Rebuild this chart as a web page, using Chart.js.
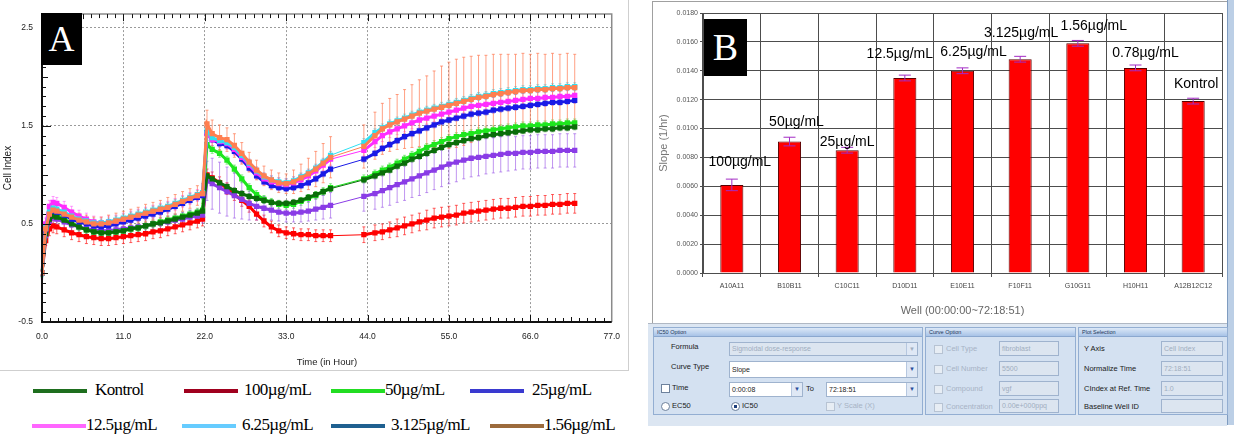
<!DOCTYPE html>
<html>
<head>
<meta charset="utf-8">
<script src="https://cdn.jsdelivr.net/npm/chart.js@4.4.1/dist/chart.umd.min.js"></script>
<style>
body { margin:0; width:1234px; height:441px; background:#fff; position:relative; overflow:hidden; font-family:"Liberation Sans", Arial, sans-serif; }
.abs { position:absolute; }
.tag { position:absolute; background:#000; color:#fff; font-family:"Liberation Serif", serif; text-align:center; z-index:5; }
.leg { position:absolute; font-family:"Liberation Serif", serif; font-size:17px; letter-spacing:-0.6px; color:#000; white-space:nowrap; }
.leg i { display:inline-block; width:54px; height:4px; vertical-align:middle; margin-right:4px; }
.grp { position:absolute; background:#d4e1f1; border:1px solid #93aed2; }
.hd { height:8px; background:linear-gradient(#dce8f7,#a8c3e7); border-bottom:1px solid #8ba8cf; font-size:5.5px; line-height:8px; padding-left:3px; color:#22365a; }
.lb { position:absolute; font-size:7.5px; color:#1a1a1a; white-space:nowrap; }
.dis { color:#a7b3c5; }
.bx { position:absolute; background:#fff; border:1px solid #9fb3ce; font-size:7px; padding-left:2px; color:#222; white-space:nowrap; box-sizing:border-box; }
.bx.d { background:#dce5f0; color:#9fadbf; }
.ar { position:absolute; right:0; top:0; bottom:0; width:10px; background:#dfe8f5; color:#2a4f9c; font-size:6px; text-align:center; border-left:1px solid #b6c7df; }
.ck { position:absolute; width:7px; height:7px; background:#fff; border:1px solid #6d819c; }
.ck.d { border-color:#b7c3d3; background:#e7edf4; }
.rd { border-radius:50%; }
</style>
</head>
<body>

<!-- panel A -->
<div class="abs" style="left:0;top:0;width:628px;height:370px;border-right:1px solid #cfcfcf;border-bottom:1px solid #cfcfcf;"></div>
<canvas id="cellChart" class="abs" width="630" height="372" style="left:0;top:0;"></canvas>
<div class="tag" style="left:41px;top:13px;width:41px;height:52px;font-size:36px;line-height:52px;">A</div>
<div id="legend"></div>

<!-- panel B -->
<div class="abs" style="left:652px;top:1px;width:574px;height:321px;border:1px solid #a0a0a0;background:#fff;"></div>
<canvas id="slopeChart" class="abs" width="573" height="318" style="left:653px;top:2px;"></canvas>
<div class="tag" style="left:704px;top:19px;width:43px;height:57px;font-size:38px;line-height:57px;">B</div>
<div class="abs" style="left:1227px;top:0;width:7px;height:425px;background:#bccfe6;border-left:1px solid #7f9cc0;"></div>

<div class="abs" style="left:648px;top:323px;width:579px;height:102px;background:#dce6f2;border-top:1px solid #b0b8c4;"></div>

<div class="grp" style="left:653px;top:327px;width:268px;height:86px;">
  <div class="hd">IC50 Option</div>
  <div class="lb" style="left:17px;top:14px;">Formula</div>
  <div class="bx d" style="left:75px;top:14px;width:189px;height:14px;line-height:12px;">Sigmoidal dose-response<div class="ar" style="color:#9fadbf;">&#9660;</div></div>
  <div class="lb" style="left:17px;top:34px;">Curve Type</div>
  <div class="bx" style="left:75px;top:33px;width:189px;height:17px;line-height:15px;">Slope<div class="ar" style="line-height:15px;">&#9660;</div></div>
  <div class="ck" style="left:7px;top:56px;"></div>
  <div class="lb" style="left:18px;top:55px;">Time</div>
  <div class="bx" style="left:75px;top:54px;width:74px;height:15px;line-height:13px;">0:00:08<div class="ar" style="line-height:13px;">&#9660;</div></div>
  <div class="lb" style="left:152px;top:56px;">To</div>
  <div class="bx" style="left:172px;top:54px;width:92px;height:15px;line-height:13px;">72:18:51<div class="ar" style="line-height:13px;">&#9660;</div></div>
  <div class="ck rd" style="left:7px;top:74px;"></div>
  <div class="lb" style="left:18px;top:73px;">EC50</div>
  <div class="ck rd" style="left:77px;top:74px;background:radial-gradient(#1d3f7a 30%,#fff 40%);"></div>
  <div class="lb" style="left:88px;top:73px;">IC50</div>
  <div class="ck d" style="left:172px;top:74px;"></div>
  <div class="lb dis" style="left:183px;top:73px;">Y Scale (X)</div>
</div>

<div class="grp" style="left:925px;top:327px;width:149px;height:86px;">
  <div class="hd">Curve Option</div>
  <div class="ck d" style="left:8px;top:17px;"></div>
  <div class="lb dis" style="left:20px;top:16px;">Cell Type</div>
  <div class="bx d" style="left:73px;top:13px;width:60px;height:15px;line-height:13px;">fibroblast</div>
  <div class="ck d" style="left:8px;top:37px;"></div>
  <div class="lb dis" style="left:20px;top:36px;">Cell Number</div>
  <div class="bx d" style="left:73px;top:33px;width:60px;height:15px;line-height:13px;">5500</div>
  <div class="ck d" style="left:8px;top:57px;"></div>
  <div class="lb dis" style="left:20px;top:56px;">Compound</div>
  <div class="bx d" style="left:73px;top:53px;width:60px;height:15px;line-height:13px;">vgf</div>
  <div class="ck d" style="left:8px;top:75px;"></div>
  <div class="lb dis" style="left:20px;top:74px;">Concentration</div>
  <div class="bx d" style="left:73px;top:71px;width:60px;height:14px;line-height:12px;">0.00e+000ppq</div>
</div>

<div class="grp" style="left:1078px;top:327px;width:148px;height:86px;">
  <div class="hd">Plot Selection</div>
  <div class="lb" style="left:5px;top:16px;">Y Axis</div>
  <div class="bx d" style="left:82px;top:13px;width:62px;height:15px;line-height:13px;">Cell Index</div>
  <div class="lb" style="left:5px;top:36px;">Normalize Time</div>
  <div class="bx d" style="left:82px;top:33px;width:62px;height:15px;line-height:13px;">72:18:51</div>
  <div class="lb" style="left:5px;top:56px;">CIndex at Ref. Time</div>
  <div class="bx d" style="left:82px;top:53px;width:62px;height:15px;line-height:13px;">1.0</div>
  <div class="lb" style="left:5px;top:74px;">Baseline Well ID</div>
  <div class="bx d" style="left:82px;top:71px;width:62px;height:14px;"></div>
</div>

<script>
// ---- panel A: cell index vs time ----
const hours = [0,0.5,1,1.5,2,
  3,4,5,6,7,8,9,10,11,12,13,14,15,16,17,18,19,20,21,
  21.7,22.3,
  23,24,25,26,27,28,29,30,31,32,33,34,35,36,37,38,39,
  43.5,
  45,46,47,48,49,50,51,52,53,54,55,56,57,58,59,60,61,62,63,64,65,66,67,68,69,70,71,72];

const kontrol = [0.00,0.40,0.55,0.58,0.57,
  0.54,0.50,0.47,0.44,0.42,0.41,0.41,0.42,0.43,0.45,0.46,0.48,0.50,0.51,0.53,0.55,0.57,0.59,0.61,
  0.63,0.99,
  0.96,0.92,0.88,0.84,0.81,0.78,0.76,0.74,0.72,0.71,0.71,0.72,0.74,0.77,0.80,0.83,0.86,
  0.95,
  0.99,1.02,1.05,1.09,1.12,1.16,1.19,1.22,1.25,1.28,1.31,1.33,1.35,1.37,1.38,1.40,1.41,1.42,1.43,1.44,1.45,1.46,1.46,1.47,1.47,1.48,1.48,1.49];
const dose100 = [0.00,0.33,0.45,0.48,0.47,
  0.44,0.41,0.39,0.37,0.36,0.35,0.35,0.36,0.37,0.38,0.39,0.40,0.42,0.43,0.45,0.47,0.49,0.51,0.53,
  0.55,1.00,
  0.97,0.92,0.86,0.80,0.74,0.68,0.60,0.53,0.47,0.43,0.41,0.40,0.39,0.39,0.38,0.38,0.38,
  0.39,
  0.41,0.42,0.44,0.46,0.48,0.50,0.52,0.54,0.56,0.57,0.58,0.59,0.61,0.62,0.63,0.64,0.65,0.66,0.66,0.67,0.68,0.68,0.69,0.69,0.70,0.70,0.71,0.71];
const dose50 = [0.00,0.42,0.57,0.60,0.59,
  0.55,0.51,0.47,0.44,0.42,0.41,0.41,0.42,0.43,0.45,0.46,0.48,0.50,0.52,0.54,0.56,0.58,0.60,0.62,
  0.64,1.31,
  1.26,1.22,1.15,1.06,0.96,0.87,0.80,0.75,0.72,0.70,0.69,0.70,0.73,0.76,0.79,0.83,0.87,
  0.96,
  1.01,1.05,1.08,1.12,1.16,1.20,1.24,1.28,1.31,1.34,1.37,1.39,1.41,1.42,1.44,1.45,1.46,1.47,1.48,1.49,1.50,1.50,1.51,1.51,1.52,1.52,1.53,1.53];
const dose25 = [0.00,0.44,0.60,0.63,0.62,
  0.59,0.55,0.52,0.50,0.48,0.47,0.48,0.50,0.52,0.54,0.56,0.58,0.60,0.62,0.65,0.68,0.71,0.74,0.77,
  0.79,1.43,
  1.36,1.32,1.30,1.24,1.16,1.07,0.99,0.93,0.89,0.87,0.86,0.87,0.89,0.92,0.96,1.01,1.06,
  1.16,
  1.22,1.27,1.31,1.35,1.39,1.42,1.45,1.48,1.51,1.54,1.56,1.58,1.60,1.62,1.63,1.64,1.66,1.67,1.68,1.69,1.70,1.71,1.72,1.73,1.74,1.74,1.75,1.76];
const dose12 = [0.00,0.50,0.68,0.72,0.71,
  0.67,0.62,0.58,0.55,0.52,0.51,0.52,0.53,0.55,0.57,0.59,0.61,0.63,0.65,0.67,0.70,0.73,0.76,0.79,
  0.81,1.42,
  1.36,1.34,1.32,1.26,1.18,1.10,1.02,0.96,0.93,0.91,0.90,0.92,0.95,0.99,1.04,1.10,1.16,
  1.25,
  1.34,1.40,1.44,1.47,1.50,1.53,1.56,1.58,1.60,1.62,1.64,1.66,1.68,1.70,1.71,1.72,1.73,1.74,1.75,1.76,1.77,1.78,1.78,1.79,1.79,1.80,1.80,1.81];
const dose6 = [0.00,0.46,0.62,0.66,0.65,
  0.62,0.58,0.55,0.53,0.51,0.51,0.52,0.54,0.56,0.58,0.60,0.62,0.64,0.66,0.68,0.71,0.74,0.77,0.80,
  0.82,1.45,
  1.38,1.35,1.33,1.28,1.20,1.12,1.04,0.98,0.95,0.93,0.92,0.94,0.98,1.02,1.07,1.13,1.20,
  1.33,
  1.43,1.48,1.52,1.55,1.58,1.61,1.64,1.66,1.68,1.70,1.72,1.74,1.76,1.78,1.80,1.81,1.83,1.84,1.85,1.86,1.87,1.87,1.88,1.88,1.89,1.89,1.90,1.90];
const dose3 = [0.00,0.38,0.53,0.56,0.55,
  0.52,0.49,0.47,0.45,0.44,0.43,0.43,0.44,0.45,0.46,0.47,0.48,0.50,0.51,0.52,0.54,0.55,0.57,0.58,
  0.59,0.94,
  0.91,0.87,0.83,0.79,0.75,0.71,0.68,0.66,0.64,0.62,0.61,0.61,0.62,0.63,0.65,0.67,0.69,
  0.78,
  0.81,0.84,0.87,0.90,0.93,0.96,0.99,1.02,1.05,1.08,1.11,1.13,1.15,1.17,1.18,1.19,1.20,1.21,1.22,1.22,1.23,1.23,1.24,1.24,1.24,1.25,1.25,1.25];
const dose1 = [0.00,0.45,0.60,0.64,0.63,
  0.60,0.57,0.54,0.52,0.50,0.50,0.51,0.53,0.55,0.57,0.59,0.61,0.63,0.65,0.67,0.70,0.73,0.76,0.79,
  0.81,1.52,
  1.42,1.38,1.36,1.30,1.22,1.13,1.05,0.99,0.95,0.92,0.91,0.93,0.97,1.01,1.06,1.12,1.18,
  1.29,
  1.40,1.47,1.51,1.54,1.57,1.60,1.63,1.65,1.67,1.69,1.71,1.73,1.75,1.77,1.79,1.80,1.82,1.83,1.84,1.85,1.86,1.86,1.87,1.87,1.88,1.88,1.89,1.89];

// standard deviations (big ones per point, small ones as one value)
const dose1Err = [0.02,0.06,0.08,0.08,0.08,
  0.07,0.07,0.07,0.07,0.07,0.07,0.08,0.08,0.08,0.08,0.08,0.09,0.09,0.09,0.10,0.10,0.10,0.10,0.10,
  0.10,0.14,
  0.14,0.13,0.12,0.12,0.11,0.10,0.10,0.10,0.10,0.10,0.10,0.12,0.14,0.16,0.18,0.20,0.21,
  0.22,
  0.24,0.26,0.27,0.28,0.30,0.32,0.34,0.36,0.39,0.42,0.44,0.45,0.45,0.44,0.43,0.42,0.41,0.40,0.39,0.38,0.38,0.37,0.37,0.36,0.36,0.35,0.35,0.34];
const dose3Err = [0.02,0.04,0.06,0.06,0.06,
  0.06,0.06,0.06,0.06,0.06,0.06,0.06,0.06,0.06,0.06,0.06,0.06,0.06,0.06,0.06,0.06,0.07,0.07,0.07,
  0.08,0.20,
  0.26,0.26,0.25,0.23,0.20,0.17,0.14,0.12,0.10,0.09,0.09,0.09,0.10,0.10,0.11,0.12,0.13,
  0.15,
  0.16,0.17,0.18,0.18,0.19,0.19,0.20,0.20,0.20,0.20,0.20,0.20,0.19,0.19,0.19,0.18,0.18,0.18,0.18,0.17,0.17,0.17,0.17,0.17,0.17,0.17,0.17,0.17];
const dose100Err = [0.02,0.05,0.07,0.07,0.07,
  0.07,0.07,0.07,0.07,0.07,0.07,0.07,0.07,0.07,0.07,0.07,0.07,0.07,0.07,0.07,0.07,0.07,0.07,0.07,
  0.07,0.06,
  0.06,0.06,0.06,0.06,0.06,0.06,0.06,0.06,0.06,0.06,0.06,0.06,0.06,0.06,0.06,0.06,0.06,
  0.08,
  0.08,0.08,0.08,0.09,0.09,0.09,0.09,0.10,0.10,0.10,0.10,0.10,0.10,0.10,0.10,0.10,0.10,0.10,0.10,0.10,0.10,0.10,0.10,0.10,0.10,0.10,0.10,0.10];

const timeTicks = [0, 11, 22, 33, 44, 55, 66, 77];
const ciTicks = [-0.5, 0.5, 1.5, 2.5];

// ---- panel B: slope per well ----
const wells = ['A10A11','B10B11','C10C11','D10D11','E10E11','F10F11','G10G11','H10H11','A12B12C12'];
const wellDoses = ['100µg/mL','50µg/mL','25µg/mL','12.5µg/mL','6.25µg/mL','3.125µg/mL','1.56µg/mL','0.78µg/mL','Kontrol'];
const slopes = [0.0061,0.0091,0.0085,0.0135,0.0140,0.0148,0.0159,0.0142,0.0119];
const slopeErr = [0.0004,0.0003,0.0002,0.0002,0.0002,0.0002,0.0002,0.0002,0.0002];
const slopeTicks = [0,0.002,0.004,0.006,0.008,0.010,0.012,0.014,0.016,0.018];

const font = 'Liberation Sans';

function pts(vals) { return vals.map((v, i) => ({ x: hours[i], y: v })); }

function series(label, vals, color, err, errColor, order) {
  return {
    label: label, data: pts(vals), err: err, errColor: errColor, order: order,
    borderColor: color, backgroundColor: color, pointBackgroundColor: color, pointBorderColor: color,
    borderWidth: 3, pointRadius: 1.6, pointStyle: 'rect', tension: 0,
    segment: { borderWidth: c => (c.p1.parsed.x - c.p0.parsed.x > 3 ? 1 : 3) }
  };
}

const errorBars = {
  id: 'errorBars',
  beforeDatasetsDraw(chart) {
    const ctx = chart.ctx, ys = chart.scales.y;
    ctx.save();
    ctx.lineWidth = 1;
    chart.data.datasets.forEach((ds, i) => {
      const meta = chart.getDatasetMeta(i);
      ctx.strokeStyle = ds.errColor;
      ctx.beginPath();
      meta.data.forEach((p, j) => {
        const v = ds.data[j].y;
        const e = Array.isArray(ds.err) ? ds.err[j] : ds.err;
        const t = ys.getPixelForValue(v + e), b = ys.getPixelForValue(v - e);
        ctx.moveTo(p.x, t); ctx.lineTo(p.x, b);
        ctx.moveTo(p.x - 1.5, t); ctx.lineTo(p.x + 1.5, t);
        ctx.moveTo(p.x - 1.5, b); ctx.lineTo(p.x + 1.5, b);
      });
      ctx.stroke();
    });
    ctx.restore();
  }
};

// frame and inward minor ticks of panel A
const frameTicks = {
  id: 'frameTicks',
  afterDraw(chart) {
    const ctx = chart.ctx, a = chart.chartArea, xs = chart.scales.x, ys = chart.scales.y;
    ctx.save();
    ctx.strokeStyle = '#8a8a8a'; ctx.lineWidth = 1.5;
    ctx.beginPath();
    ctx.moveTo(a.left, a.top); ctx.lineTo(a.right, a.top); ctx.lineTo(a.right, a.bottom);
    ctx.stroke();
    ctx.strokeStyle = '#111'; ctx.lineWidth = 2;
    ctx.beginPath();
    ctx.moveTo(a.left, a.top); ctx.lineTo(a.left, a.bottom); ctx.lineTo(a.right, a.bottom);
    ctx.stroke();
    ctx.lineWidth = 1;
    ctx.beginPath();
    for (let i = 1; i < 70; i++) {
      const px = Math.round(xs.getPixelForValue(i * 1.1)) + 0.5;
      const len = i % 10 === 0 ? 7 : (i % 5 === 0 ? 5 : 4);
      ctx.moveTo(px, a.bottom); ctx.lineTo(px, a.bottom - len);
      ctx.moveTo(px, a.top); ctx.lineTo(px, a.top + len);
    }
    for (let i = 1; i <= 31; i++) {
      const v = -0.5 + i * 0.1;
      if (v > ys.max) break;
      const py = Math.round(ys.getPixelForValue(v)) + 0.5;
      const len = i % 10 === 0 ? 9 : (i % 5 === 0 ? 6 : 4);
      ctx.moveTo(a.left, py); ctx.lineTo(a.left + len, py);
    }
    ctx.stroke();
    ctx.restore();
  }
};

new Chart(document.getElementById('cellChart'), {
  type: 'line',
  data: {
    datasets: [
      series('Kontrol', kontrol, '#0a6e0a', 0.03, 'rgba(10,110,10,0.5)', 4),
      series('100µg/mL', dose100, '#ff0000', dose100Err, 'rgba(255,30,30,0.7)', 7),
      series('50µg/mL', dose50, '#1ee61e', 0.04, 'rgba(30,220,30,0.5)', 5),
      series('25µg/mL', dose25, '#1a1ae6', 0.03, 'rgba(40,40,230,0.45)', 3),
      series('12.5µg/mL', dose12, '#ff2cff', 0.06, 'rgba(255,80,255,0.55)', 2),
      series('6.25µg/mL', dose6, '#2ee0f2', 0.04, 'rgba(0,200,230,0.45)', 1),
      series('3.125µg/mL', dose3, '#8a3ce6', dose3Err, 'rgba(150,80,230,0.6)', 6),
      series('1.56µg/mL', dose1, '#ff7f50', dose1Err, 'rgba(255,120,80,0.7)', 0)
    ]
  },
  options: {
    responsive: false, animation: false,
    layout: { padding: { left: 0, right: 17, top: 6, bottom: 0 } },
    plugins: { legend: { display: false }, tooltip: { enabled: false } },
    scales: {
      x: {
        type: 'linear', min: 0, max: 77,
        afterBuildTicks: s => { s.ticks = timeTicks.map(v => ({ value: v })); },
        afterFit: s => { s.height = 50; },
        ticks: { callback: v => v.toFixed(1), font: { family: font, size: 8.5 }, color: '#222', padding: 10, maxRotation: 0, autoSkip: false },
        grid: { color: c => (c.tick && (c.tick.value === 0 || c.tick.value === 77)) ? 'rgba(0,0,0,0)' : '#9a9a9a', drawTicks: false },
        border: { display: false, dash: [2, 2] },
        title: { display: true, text: 'Time (in Hour)', font: { family: font, size: 9.5 }, color: '#222', padding: { top: 8, bottom: 4 } }
      },
      y: {
        type: 'linear', min: -0.5, max: 2.64,
        afterBuildTicks: s => { s.ticks = ciTicks.map(v => ({ value: v })); },
        afterFit: s => { s.width = 42; },
        ticks: { callback: v => v.toFixed(1), font: { family: font, size: 8.5 }, color: '#222', padding: 9 },
        grid: { color: c => (c.tick && c.tick.value === -0.5) ? 'rgba(0,0,0,0)' : '#9a9a9a', drawTicks: false },
        border: { display: false, dash: [2, 2] },
        title: { display: true, text: 'Cell Index', font: { family: font, size: 10 }, color: '#222', padding: { top: 2, bottom: 2 } }
      }
    }
  },
  plugins: [errorBars, frameTicks]
});

// legend of panel A (colours as printed in the figure legend)
const legendItems = [
  ['Kontrol', '#1e6e1e', 33, 391], ['100µg/mL', '#a0001e', 184, 391], ['50µg/mL', '#22dd22', 331, 391], ['25µg/mL', '#3a3ad0', 470, 391],
  ['12.5µg/mL', '#ff66ff', 32, 426], ['6.25µg/mL', '#66ccff', 182, 426], ['3.125µg/mL', '#1f6090', 331, 426], ['1.56µg/mL', '#9c6b3c', 490, 426]
];
const gaps = [8, 6, 0, 8, 0, 6, 6, 0];
const legend = document.getElementById('legend');
legendItems.forEach((it, i) => {
  const d = document.createElement('div');
  d.className = 'leg';
  d.style.left = it[2] + 'px';
  d.style.top = (it[3] - 11) + 'px';
  d.innerHTML = '<i style="background:' + it[1] + ';margin-right:' + gaps[i] + 'px"></i>' + it[0];
  legend.appendChild(d);
});

// ---- panel B chart ----
const labelDx = [8, 7, 0, -5, 11, 1, 16, 10, 3];
const labelDy = [-23, -19, -8, -24, -19, -26, -17, -15, -17];

const slopeMarks = {
  id: 'slopeMarks',
  afterDatasetsDraw(chart) {
    const ctx = chart.ctx, ys = chart.scales.y, meta = chart.getDatasetMeta(0);
    ctx.save();
    meta.data.forEach((bar, i) => {
      const t = ys.getPixelForValue(slopes[i] + slopeErr[i]);
      const b = ys.getPixelForValue(slopes[i] - slopeErr[i]);
      ctx.strokeStyle = '#a32cc4'; ctx.lineWidth = 1;
      ctx.beginPath();
      ctx.moveTo(bar.x, t); ctx.lineTo(bar.x, b);
      ctx.moveTo(bar.x - 6, t); ctx.lineTo(bar.x + 6, t);
      ctx.moveTo(bar.x - 6, b); ctx.lineTo(bar.x + 6, b);
      ctx.stroke();
      ctx.fillStyle = '#000';
      ctx.font = '14px "Liberation Sans"';
      ctx.textAlign = 'center'; ctx.textBaseline = 'middle';
      ctx.fillText(wellDoses[i], bar.x + labelDx[i], bar.y + labelDy[i]);
    });
    ctx.restore();
  }
};

new Chart(document.getElementById('slopeChart'), {
  type: 'bar',
  data: {
    labels: wells,
    datasets: [{
      label: 'Slope', data: slopes,
      backgroundColor: '#ff0000', borderColor: '#5a0000', borderWidth: 1,
      barPercentage: 0.4, categoryPercentage: 1
    }]
  },
  options: {
    responsive: false, animation: false,
    layout: { padding: { left: 0, right: 4, top: 11, bottom: 0 } },
    plugins: { legend: { display: false }, tooltip: { enabled: false } },
    scales: {
      x: {
        afterFit: s => { s.height = 47; },
        ticks: { font: { family: font, size: 7 }, color: '#444', padding: 5, autoSkip: false, maxRotation: 0 },
        grid: { color: '#4d4d4d', offset: true, tickLength: 4, tickColor: '#4d4d4d' },
        border: { color: '#4d4d4d' },
        title: { display: true, text: 'Well (00:00:00~72:18:51)', font: { family: font, size: 11 }, color: '#666', padding: { top: 6, bottom: 2 } }
      },
      y: {
        min: 0, max: 0.018,
        afterBuildTicks: s => { s.ticks = slopeTicks.map(v => ({ value: v })); },
        afterFit: s => { s.width = 50; },
        ticks: { callback: v => v.toFixed(4), font: { family: font, size: 7 }, color: '#555', padding: 2 },
        grid: { color: '#4d4d4d', tickLength: 3, tickColor: '#4d4d4d' },
        border: { color: '#4d4d4d' },
        title: { display: true, text: 'Slope (1/hr)', font: { family: font, size: 11 }, color: '#777', padding: { top: 4, bottom: 2 } }
      }
    }
  },
  plugins: [slopeMarks]
});
</script>
</body>
</html>
